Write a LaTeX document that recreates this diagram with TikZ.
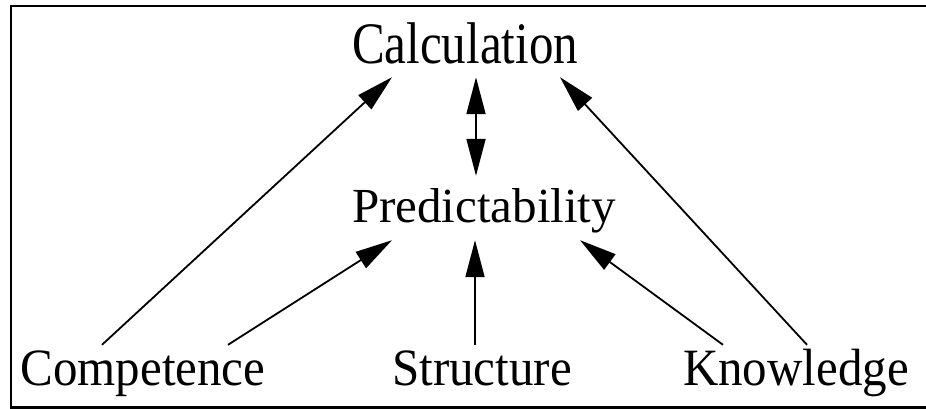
\documentclass[tikz,border=0pt]{standalone}
\usepackage{fontspec}
\setmainfont{Liberation Serif}
\usetikzlibrary{arrows.meta}
\tikzset{
  word/.style={anchor=base,inner sep=0pt,text height=40pt,text depth=12pt,font=\fontsize{49}{55}\selectfont},
  arr/.style={-{Triangle[length=37pt,width=19pt]},line width=1.8pt},
  darr/.style={{Triangle[length=37pt,width=19pt]}-{Triangle[length=37pt,width=19pt]},line width=1.8pt},
  frame/.style={line width=2.5pt}}
\newcommand{\tall}[2]{\scalebox{1}[#1]{#2}}

\begin{document}
\begin{tikzpicture}[x=1pt,y=-1pt]
\useasboundingbox (0,0) rectangle (926,409);
\draw[frame] (11,5.8) rectangle (940,407.5);
\node[word,text depth=13pt] (calc) at (465,64) {\tall{1.2}{Calculation}};
\node[word,inner ysep=6pt] (pred) at (484,222) {Predictability};
\node[word] (comp) at (143,385) {\tall{1.07}{Competence}};
\node[word] (struct) at (482,385) {\tall{1.07}{Structure}};
\node[word] (know) at (796,385) {\tall{1.07}{Knowledge}};
% links into the upper word
\draw[darr] ([xshift=-8pt]pred.north) -- ([xshift=11pt]calc.south);
\draw[arr] ([xshift=-41pt]comp.north) -- ([xshift=-73pt]calc.south);
\draw[arr] ([xshift=11pt]know.north) -- ([xshift=95pt]calc.south);
% links into the middle word
\draw[arr] ([xshift=85pt]comp.north) -- ([xshift=-92pt]pred.south);
\draw[arr] ([xshift=-7pt]struct.north) -- ([xshift=-9pt]pred.south);
\draw[arr] ([xshift=-73pt]know.north) -- ([xshift=96pt]pred.south);
\end{tikzpicture}
\end{document}
